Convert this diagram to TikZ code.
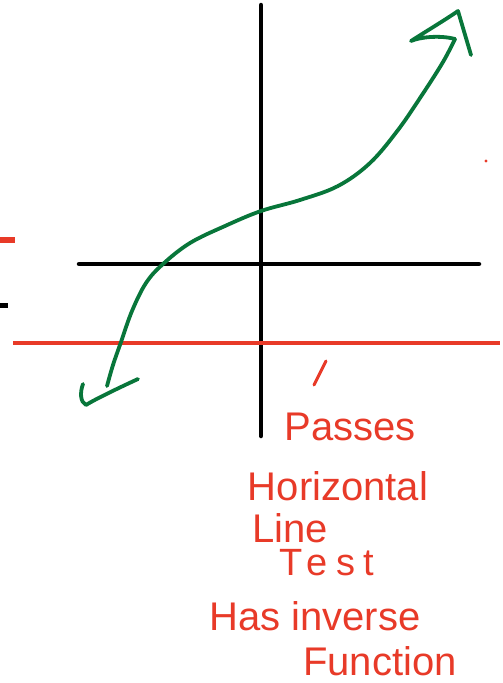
\documentclass[tikz,border=0pt]{standalone}
\usepackage{fontspec}
\setmainfont{Liberation Sans}
\definecolor{inkred}{RGB}{232,58,40}
\definecolor{inkgreen}{RGB}{8,118,58}
\begin{document}
\begin{tikzpicture}[x=1pt,y=-1pt,
  blackline/.style={line width=4.5pt,black,line cap=round},
  greenline/.style={line width=3.8pt,inkgreen,line cap=round,line join=round},
  note/.style={inkred,inner sep=0pt,anchor=base,font=\fontsize{40}{46}\selectfont}]
\useasboundingbox (0,0) rectangle (503,683);
% axes
\draw[blackline] (261,5) -- (261,436);
\draw[blackline] (79,264) -- (479,264);
\draw[line width=5pt,black] (0,305) -- (8,305);
% red horizontal line
\draw[line width=3.5pt,inkred] (13,343) -- (500,343);
\draw[line width=6pt,inkred] (0,240) -- (15,240);
\fill[inkred] (486,161) circle (1.6pt);
% green curve
\draw[greenline] plot[smooth,tension=0.6] coordinates {(107,386) (113,365) (121,342) (132,311) (146,283) (163,264) (190,243) (225,226) (261,211) (300,200) (338,186) (370,163) (398,130) (422,95) (443,62) (455,39)};
\draw[greenline] (138,379) .. controls (112,391) and (92,401) .. (86,405) .. controls (80,402) and (80,392) .. (83,384);
\draw[greenline] (455,39) .. controls (440,35) and (420,37) .. (411,41) .. controls (425,32) and (445,20) .. (458,11) -- (471,55);
% tick
\draw[line width=3pt,inkred,line cap=round] (326,361) -- (314,385);
% text
\node[note] (t1) at (350,440) {Passes};
\node[note] (t2) at (338,500) {Horizontal};
\node[note] (t3) at (290,542) {Line};
\node[note,font=\fontsize{38}{44}\selectfont] (t4) at (327,575) {\addfontfeatures{LetterSpace=22}Test};
\node[note] (t5) at (315,630) {Has inverse};
\node[note] (t6) at (380,675) {Function};
\end{tikzpicture}
\end{document}
